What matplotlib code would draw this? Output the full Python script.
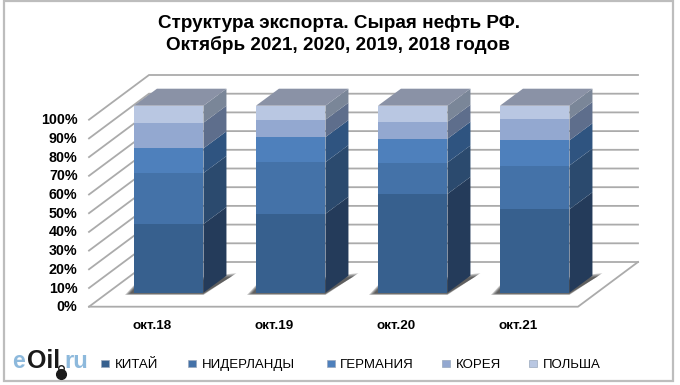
import matplotlib
matplotlib.use("Agg")
import matplotlib.pyplot as plt
from matplotlib.patches import Polygon, Rectangle

plt.rcParams['font.family'] = ['Liberation Sans', 'DejaVu Sans']

months = ["окт.18", "окт.19", "окт.20", "окт.21"]
countries = ["КИТАЙ", "НИДЕРЛАНДЫ", "ГЕРМАНИЯ", "КОРЕЯ", "ПОЛЬША"]
china = [36.7, 42.2, 52.8, 44.6]
netherlands = [27.3, 27.6, 16.8, 23.4]
germany = [13.2, 13.4, 12.7, 13.5]
korea = [13.7, 9.3, 9.1, 11.4]
poland = [9.1, 7.5, 8.6, 7.1]
series = [china, netherlands, germany, korea, poland]

front_colors = ["#37608E", "#4472A8", "#4E80BC", "#93A8D0", "#B9C7E2"]
side_colors = ["#243B5A", "#2B4A6E", "#2F5480", "#5E6E8C", "#7A8698"]
top_color = "#8A92A6"
grid_color = "#ABABAB"

# pixel scale of the picture: 122 px per category, 1.87 px per percent
px_x = 122
px_y = 1.87
x0 = 168.7
y0 = 292.7
bar_w = 69.5 / px_x
bar_dx = 23 / px_x
bar_dy = 17 / px_y

fig = plt.figure(figsize=(6.8, 3.85), dpi=100)
ax = fig.add_axes([0, 0, 1, 1])
ax.set_xlim(-x0 / px_x, (680 - x0) / px_x)
ax.set_ylim((y0 - 385) / px_y, y0 / px_y)
ax.axis("off")


def px(x, y):
    return (x - x0) / px_x, (y0 - y) / px_y


# outer frame
ax.add_patch(Polygon([px(3.5, 1), px(673, 1), px(673, 380.5), px(3.5, 380.5)], closed=True,
                     fill=False, ec="#BDBDBD", lw=1.6))

# walls and floor
wall_dx = 60 / px_x
wall_dy = 44.7 / px_y
wall_x = (89 - x0) / px_x
wall_r = (578 - x0) / px_x
base = (y0 - 306.7) / px_y
for p in range(0, 101, 10):
    y = base + p
    ax.plot([wall_x, wall_x + wall_dx, wall_r + wall_dx], [y, y + wall_dy, y + wall_dy],
            color=grid_color, lw=1.3, zorder=1, solid_joinstyle="miter")
ax.plot([wall_x, wall_r, wall_r + wall_dx], [base, base, base + wall_dy],
        color=grid_color, lw=1.3, zorder=1)

for i, m in enumerate(months):
    left = i - bar_w / 2
    right = i + bar_w / 2
    # soft shadow on the floor, layered so its edge fades out
    for k in range(5):
        g = k * 1.3 / px_x
        h = k * 0.5
        ax.add_patch(Polygon([(left - 9 / px_x + g, -1.2 + h * 0.4), (right, -1.2 + h * 0.4),
                              (right + 33 / px_x - g, 10.5 - h), (left, 4 - h)],
                             closed=True, fc="#202020", ec="none", alpha=0.22, zorder=2))
    bottom = 0
    for j, values in enumerate(series):
        v = values[i]
        ax.add_patch(Rectangle((left, bottom), bar_w, v, fc=front_colors[j], ec="none", zorder=4))
        ax.add_patch(Polygon([(right, bottom), (right + bar_dx, bottom + bar_dy),
                              (right + bar_dx, bottom + v + bar_dy), (right, bottom + v)],
                             closed=True, fc=side_colors[j], ec="none", zorder=3))
        bottom += v
    ax.add_patch(Polygon([(left, bottom), (right, bottom), (right + bar_dx, bottom + bar_dy),
                          (left + bar_dx, bottom + bar_dy)],
                         closed=True, fc=top_color, ec="none", zorder=3))
    ax.text(i - 17 / px_x, -17.7, m, ha="center", va="center", fontsize=9.7,
            fontweight="bold", color="black")

# y tick labels
for p in range(0, 101, 10):
    ax.text((77.5 - x0) / px_x, base + p - 0.3, f"{p}%", ha="right", va="center", fontsize=10.3,
            fontweight="bold", color="black")

ax.text(*px(338.5, 23), "Структура экспорта. Сырая нефть РФ.", ha="center", va="center",
        fontsize=13.6, fontweight="bold")
ax.text(*px(338.5, 45), "Октябрь 2021, 2020, 2019, 2018 годов", ha="center", va="center",
        fontsize=13.6, fontweight="bold")

# legend
marker_x = [101, 188, 327, 442, 529]
label_x = [115, 202, 340, 456, 543]
for mx, lx, name, c in zip(marker_x, label_x, countries, front_colors):
    ax.add_patch(Rectangle(px(mx, 367), 7.5 / px_x, 7.5 / px_y, fc=c, ec="#9AA8BC", lw=0.5, zorder=5))
    ax.text(*px(lx, 365), name, ha="left", va="center", fontsize=9.5, color="black")

# logo
ax.text(*px(12, 361), "e", fontsize=16.5, fontweight="bold", color="#8DB9DC", ha="left", va="center")
ax.text(*px(27, 361), "Oil", fontsize=18, fontweight="bold", color="#1A1A1A", ha="left", va="center")
ax.text(*px(64, 361), "ru", fontsize=17, fontweight="bold", color="#8DB9DC", ha="left", va="center")
ax.plot(*px(61, 374), "o", ms=7, color="#1A1A1A")
ax.plot(*px(61, 367.5), "o", ms=4, mfc="none", mec="#1A1A1A", mew=1)

fig.savefig("out.png", dpi=100)
